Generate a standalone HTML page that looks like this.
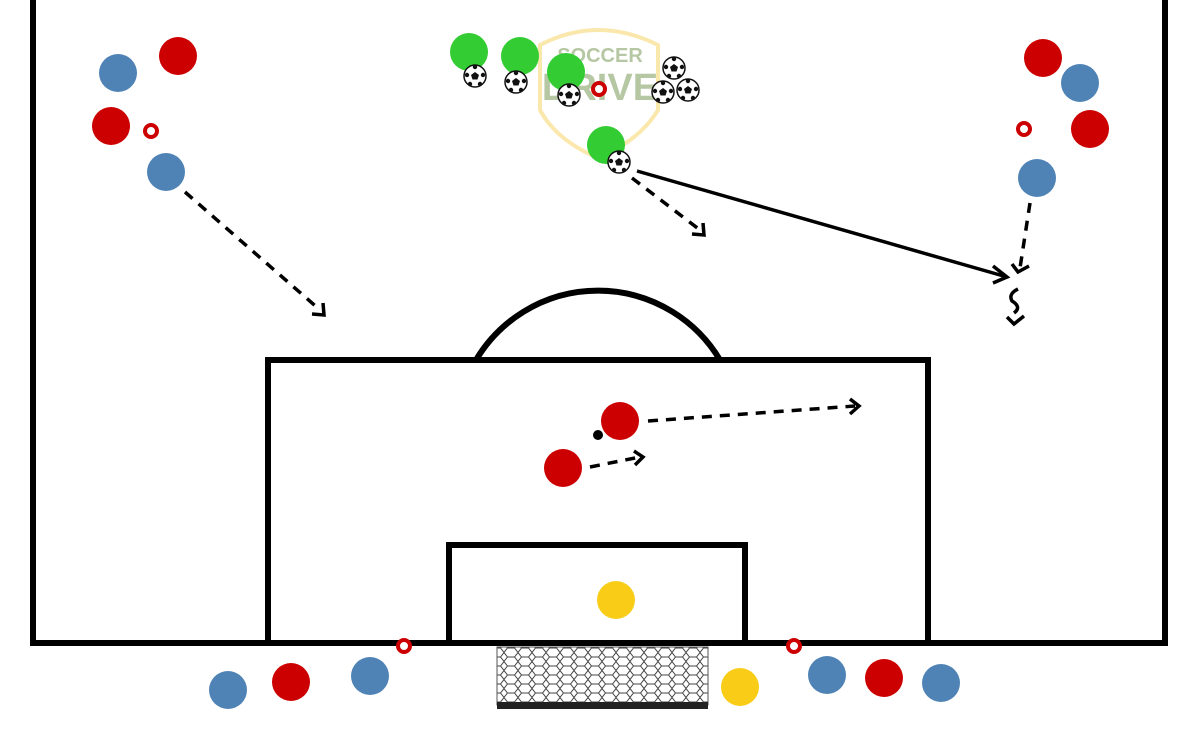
<!DOCTYPE html>
<html><head><meta charset="utf-8"><style>html,body{margin:0;padding:0;background:#fff}svg{display:block}</style></head>
<body>
<svg width="1200" height="750" viewBox="0 0 1200 750" xmlns="http://www.w3.org/2000/svg">
<defs>
<pattern id="net" width="14" height="9" patternUnits="userSpaceOnUse">
<rect width="14" height="9" fill="#fff"/>
<path d="M0 4.5 L3.5 0 L10.5 0 L14 4.5 L10.5 9 L3.5 9 Z" fill="none" stroke="#444" stroke-width="1"/>
</pattern>
<g id="ball">
<circle r="11" fill="#fff" stroke="#111" stroke-width="1.5"/>
<polygon points="0,-4 4,-1 2.5,3.5 -2.5,3.5 -4,-1" fill="#111"/>
<circle cx="0" cy="-9" r="2.2" fill="#111"/>
<circle cx="8" cy="-1" r="2.2" fill="#111"/>
<circle cx="5" cy="8" r="2.2" fill="#111"/>
<circle cx="-5" cy="8" r="2.2" fill="#111"/>
<circle cx="-8" cy="-1" r="2.2" fill="#111"/>
</g>
<g id="cone"><circle r="6" fill="#fff" stroke="#cc0000" stroke-width="4"/></g>
</defs>

<!-- logo (faded) -->
<g opacity="0.55">
<path d="M540 45 Q598 15 658 45 L658 110 Q640 140 598 158 Q556 140 540 110 Z" fill="none" stroke="#f7d56a" stroke-width="4"/>
<text x="600" y="62" font-family="Liberation Sans, sans-serif" font-size="20" font-weight="bold" fill="#7c9a5a" text-anchor="middle">SOCCER</text>
<text x="600" y="100" font-family="Liberation Sans, sans-serif" font-size="38" font-weight="bold" fill="#7c9a5a" text-anchor="middle">DRIVE</text>
</g>

<!-- field -->
<g fill="none" stroke="#000" stroke-width="6">
<path d="M33 0 V643 H1165 V0"/>
<path d="M268 643 V360 H928 V643"/>
<path d="M449 643 V545 H745 V643"/>
<path d="M476 360 A142 142 0 0 1 720 360"/>
</g>

<!-- net -->
<rect x="497" y="647" width="211" height="58" fill="url(#net)" stroke="#555" stroke-width="1"/>
<rect x="497" y="702" width="211" height="7" fill="#222"/>

<!-- arrows -->
<g fill="none" stroke="#000" stroke-width="3.5" stroke-dasharray="10 8">
<line x1="185" y1="192" x2="320" y2="310"/>
<line x1="632" y1="178" x2="700" y2="230"/>
<line x1="1030" y1="203" x2="1020" y2="268"/>
<line x1="648" y1="421" x2="855" y2="406"/>
<line x1="590" y1="467" x2="640" y2="457"/>
</g>
<g fill="none" stroke="#000" stroke-width="3.5">
<polyline points="312,314 324,315 323,303"/>
<polyline points="692,234 704,235 703,223"/>
<polyline points="1012,264 1018,272 1029,266"/>
<polyline points="850,399 859,406 850,414"/>
<polyline points="634,451 643,457 635,465"/>
<line x1="637" y1="171" x2="1007" y2="277"/>
<polyline points="993,266 1007,277 993,283"/>
<path d="M1018 289 Q1008 294 1012 301 Q1022 307 1014 313"/>
<polyline points="1007,317 1014,324 1024,316"/>
</g>

<!-- players -->
<g>
<circle cx="118" cy="73" r="19" fill="#4f83b6"/>
<circle cx="178" cy="56" r="19" fill="#cc0000"/>
<circle cx="111" cy="126" r="19" fill="#cc0000"/>
<circle cx="166" cy="172" r="19" fill="#4f83b6"/>
<circle cx="1043" cy="58" r="19" fill="#cc0000"/>
<circle cx="1080" cy="83" r="19" fill="#4f83b6"/>
<circle cx="1090" cy="129" r="19" fill="#cc0000"/>
<circle cx="1037" cy="178" r="19" fill="#4f83b6"/>
<circle cx="469" cy="52" r="19" fill="#33cc33"/>
<circle cx="520" cy="56" r="19" fill="#33cc33"/>
<circle cx="566" cy="72" r="19" fill="#33cc33"/>
<circle cx="606" cy="145" r="19" fill="#33cc33"/>
<circle cx="620" cy="421" r="19" fill="#cc0000"/>
<circle cx="563" cy="468" r="19" fill="#cc0000"/>
<circle cx="598" cy="435" r="5" fill="#000"/>
<circle cx="616" cy="600" r="19" fill="#f8cc17"/>
<circle cx="740" cy="687" r="19" fill="#f8cc17"/>
<circle cx="228" cy="690" r="19" fill="#4f83b6"/>
<circle cx="291" cy="682" r="19" fill="#cc0000"/>
<circle cx="370" cy="676" r="19" fill="#4f83b6"/>
<circle cx="827" cy="675" r="19" fill="#4f83b6"/>
<circle cx="884" cy="678" r="19" fill="#cc0000"/>
<circle cx="941" cy="683" r="19" fill="#4f83b6"/>
</g>

<!-- balls -->
<use href="#ball" x="475" y="76"/>
<use href="#ball" x="516" y="82"/>
<use href="#ball" x="569" y="95"/>
<use href="#ball" x="674" y="68"/>
<use href="#ball" x="663" y="92"/>
<use href="#ball" x="688" y="90"/>
<use href="#ball" x="619" y="162"/>

<!-- cones -->
<use href="#cone" x="151" y="131"/>
<use href="#cone" x="599" y="89"/>
<use href="#cone" x="1024" y="129"/>
<use href="#cone" x="404" y="646"/>
<use href="#cone" x="794" y="646"/>
</svg>
</body></html>
